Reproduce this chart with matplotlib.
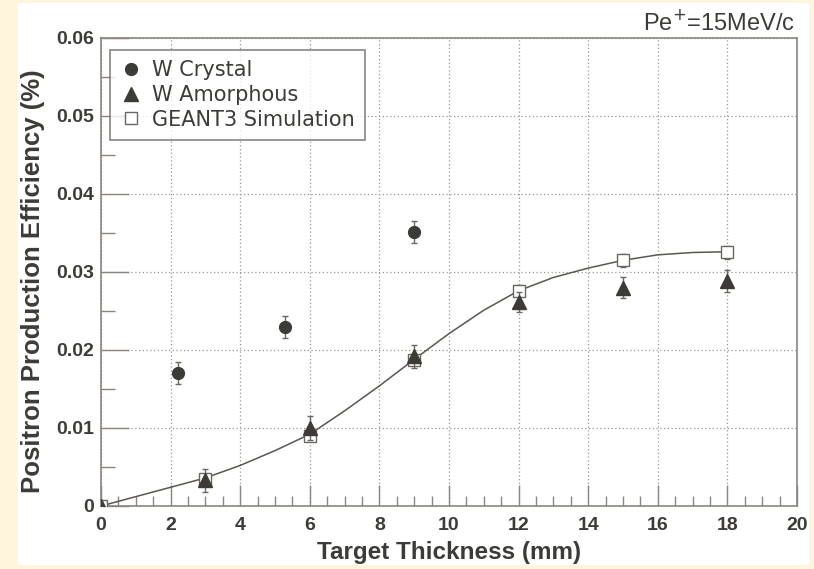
import matplotlib
matplotlib.use("Agg")
import matplotlib.pyplot as plt
from matplotlib.patches import Rectangle
from matplotlib.lines import Line2D
from matplotlib.ticker import MultipleLocator
from matplotlib import font_manager

# thickness (mm) and efficiency (%) for each target
crystal_x = [2.2, 5.3, 9.0]
crystal_y = [0.0171, 0.0230, 0.0351]
crystal_err = [0.0014, 0.0014, 0.0014]

amorph_x = [0, 3, 6, 9, 12, 15, 18]
amorph_y = [0.0, 0.0033, 0.0100, 0.0192, 0.0262, 0.0280, 0.0288]
amorph_err = [0.0, 0.0015, 0.0015, 0.0015, 0.0013, 0.0013, 0.0014]

sim_x = [0, 3, 6, 9, 12, 15, 18]
sim_y = [0.0, 0.0035, 0.0090, 0.0187, 0.0276, 0.0315, 0.0325]
sim_err = [0.0, 0.0006, 0.0006, 0.0006, 0.0007, 0.0008, 0.0008]

# smooth fit drawn through the simulation
fit_x = [0, 1, 2, 3, 4, 5, 6, 7, 8, 9, 10, 11, 12, 13, 14, 15, 16, 17, 18]
fit_y = [0.0, 0.0012, 0.0024, 0.0036, 0.0052, 0.0071, 0.0092, 0.0122, 0.0154,
         0.0188, 0.0221, 0.0251, 0.0276, 0.0293, 0.0305, 0.0315, 0.0322,
         0.0325, 0.0326]

names = {f.name for f in font_manager.fontManager.ttflist}
narrow = "Liberation Sans Narrow" if "Liberation Sans Narrow" in names else "Liberation Sans"

ink = "#3d3b37"
frame = "#8a8580"
gray = "#6a6660"

fig = plt.figure(figsize=(8.14, 5.69), dpi=100, facecolor="#fff4dc")
fig.patches.append(Rectangle((18 / 814, 1 - 565 / 569), (809 - 18) / 814, (565 - 3) / 569,
                             transform=fig.transFigure, facecolor="white",
                             edgecolor="none", zorder=-5))
ax = fig.add_axes([101 / 814, 1 - 506 / 569, 696 / 814, 468 / 569])

ax.plot(fit_x, fit_y, color="#5a5650", lw=1.1, zorder=2)

ax.errorbar(crystal_x, crystal_y, yerr=crystal_err, fmt="o", ms=8.5,
            color=ink, ecolor=gray, elinewidth=1, capsize=2.5, zorder=4)
ax.errorbar(amorph_x, amorph_y, yerr=amorph_err, fmt="^", ms=10,
            color=ink, ecolor=gray, elinewidth=1, capsize=2.5, zorder=4)
ax.errorbar(sim_x, sim_y, yerr=sim_err, fmt="s", ms=8, mfc="white",
            mec=gray, mew=1, color=gray, ecolor=gray,
            elinewidth=1, capsize=2.5, zorder=3)

ax.set_xlim(0, 20)
ax.set_ylim(0, 0.06)
ax.xaxis.set_major_locator(MultipleLocator(2))
ax.xaxis.set_minor_locator(MultipleLocator(0.5))
ax.yaxis.set_minor_locator(MultipleLocator(0.005))
ax.set_yticks([0, 0.01, 0.02, 0.03, 0.04, 0.05, 0.06])
ax.set_yticklabels(["0", "0.01", "0.02", "0.03", "0.04", "0.05", "0.06"])

ax.grid(True, which="major", ls=(0, (1, 2)), color="#9a9590", lw=0.9)
ax.tick_params(which="major", direction="in", length=15, width=1, color=frame,
               labelsize=14, labelcolor=ink)
ax.tick_params(which="minor", direction="in", length=7, width=1, color=frame)
ax.tick_params(axis="x", which="major", pad=8)
ax.tick_params(axis="y", which="major", length=20, pad=5)
ax.tick_params(axis="y", which="minor", length=10)
for lab in ax.get_xticklabels() + ax.get_yticklabels():
    lab.set_family(narrow)
    lab.set_fontweight("bold")
for s in ax.spines.values():
    s.set_color(frame)
    s.set_linewidth(1.2)

ax.set_xlabel("Target Thickness (mm)", fontsize=17.5, fontweight="bold",
              family=narrow, color=ink, labelpad=5)
ax.set_ylabel("Positron Production Efficiency (%)", fontsize=18.5, fontweight="bold",
              family=narrow, color=ink)
ax.yaxis.set_label_coords(-0.08, 0.48)

fig.text(795 / 814, 1 - 22 / 569, r"Pe$^{+}$=15MeV/c", ha="right", va="center",
         fontsize=17, family=narrow, color=ink)

handles = [
    Line2D([], [], ls="none", marker="o", ms=8.5, color=ink),
    Line2D([], [], ls="none", marker="^", ms=10, color=ink),
    Line2D([], [], ls="none", marker="s", ms=8, mfc="white", mec=gray, mew=1),
]
leg = ax.legend(handles, ["W Crystal", "W Amorphous", "GEANT3 Simulation"],
                loc="upper left", bbox_to_anchor=(9 / 696, 1 - 12 / 468), fontsize=15,
                frameon=True, fancybox=False, edgecolor=gray,
                handletextpad=0.5, borderpad=0.5, labelspacing=0.22,
                handlelength=1.0, borderaxespad=0)
leg.get_frame().set_linewidth(1.2)
for t in leg.get_texts():
    t.set_color(ink)

fig.savefig("out.png", dpi=100, facecolor=fig.get_facecolor())
